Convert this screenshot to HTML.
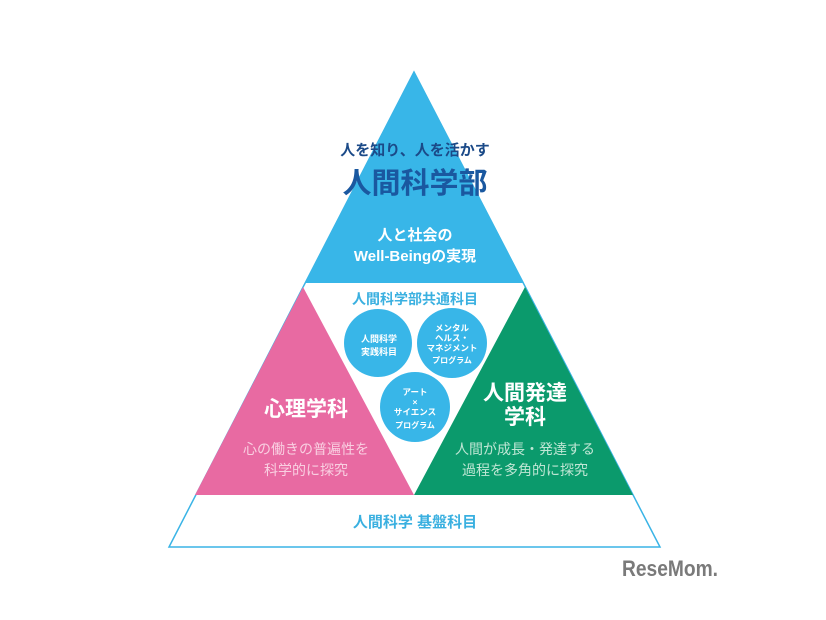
<!DOCTYPE html>
<html><head><meta charset="utf-8"><style>
html,body{margin:0;padding:0;background:#fff;}
svg{display:block;}
text{font-family:"Liberation Sans","Noto Sans CJK JP",sans-serif;}
</style></head><body>
<svg width="826" height="620" viewBox="0 0 826 620" xmlns="http://www.w3.org/2000/svg">
<rect width="826" height="620" fill="#fff"/>
<polygon points="414,72 169,547 660,547" fill="#fff" stroke="#3ab4e6" stroke-width="1.5"/>
<polygon points="414,72 305,283 524,283" fill="#38b6e8"/>
<polygon points="303,287 195,495 414,495" fill="#e86aa2"/>
<polygon points="525,287 414,495 633,495" fill="#0b9a6c"/>
<circle cx="378" cy="343" r="34" fill="#38b6e8"/>
<circle cx="452" cy="343" r="35" fill="#38b6e8"/>
<circle cx="415" cy="407" r="35" fill="#38b6e8"/>
<g text-anchor="middle" font-weight="bold">
<text x="415" y="155" font-size="15" fill="#1b4a88">人を知り、人を活かす</text>
<text x="415" y="193" font-size="29" fill="#1a58a0">人間科学部</text>
<text x="415" y="240" font-size="15" fill="#fff">人と社会の</text>
<text x="415" y="261" font-size="15" fill="#fff">Well-Beingの実現</text>
<text x="415" y="304" font-size="14" fill="#3ab0e0">人間科学部共通科目</text>
<text x="379" y="342" font-size="9" fill="#fff">人間科学</text>
<text x="379" y="355" font-size="9" fill="#fff">実践科目</text>
<text x="452" y="331" font-size="8.5" fill="#fff">メンタル</text>
<text x="452" y="341" font-size="8.5" fill="#fff">ヘルス・</text>
<text x="452" y="351" font-size="8.5" fill="#fff">マネジメント</text>
<text x="452" y="363" font-size="8" fill="#fff">プログラム</text>
<text x="415" y="395" font-size="8.5" fill="#fff">アート</text>
<text x="415" y="405" font-size="8.5" fill="#fff">×</text>
<text x="415" y="415" font-size="8.5" fill="#fff">サイエンス</text>
<text x="415" y="428" font-size="8" fill="#fff">プログラム</text>
<text x="306" y="416" font-size="21" fill="#fff">心理学科</text>
<text x="306" y="454" font-size="14" font-weight="normal" fill="#f9cfe1">心の働きの普遍性を</text>
<text x="306" y="475" font-size="14" font-weight="normal" fill="#f9cfe1">科学的に探究</text>
<text x="525" y="400" font-size="21" fill="#fff">人間発達</text>
<text x="525" y="424" font-size="21" fill="#fff">学科</text>
<text x="525" y="454" font-size="14" font-weight="normal" fill="#bfe6d4">人間が成長・発達する</text>
<text x="525" y="475" font-size="14" font-weight="normal" fill="#bfe6d4">過程を多角的に探究</text>
<text x="415" y="527" font-size="15" fill="#3ab0e0">人間科学 基盤科目</text>
</g>
<text x="622" y="576" font-size="22" font-weight="bold" fill="#7a7a7a" textLength="96" lengthAdjust="spacingAndGlyphs">ReseMom.</text>
</svg>
</body></html>
